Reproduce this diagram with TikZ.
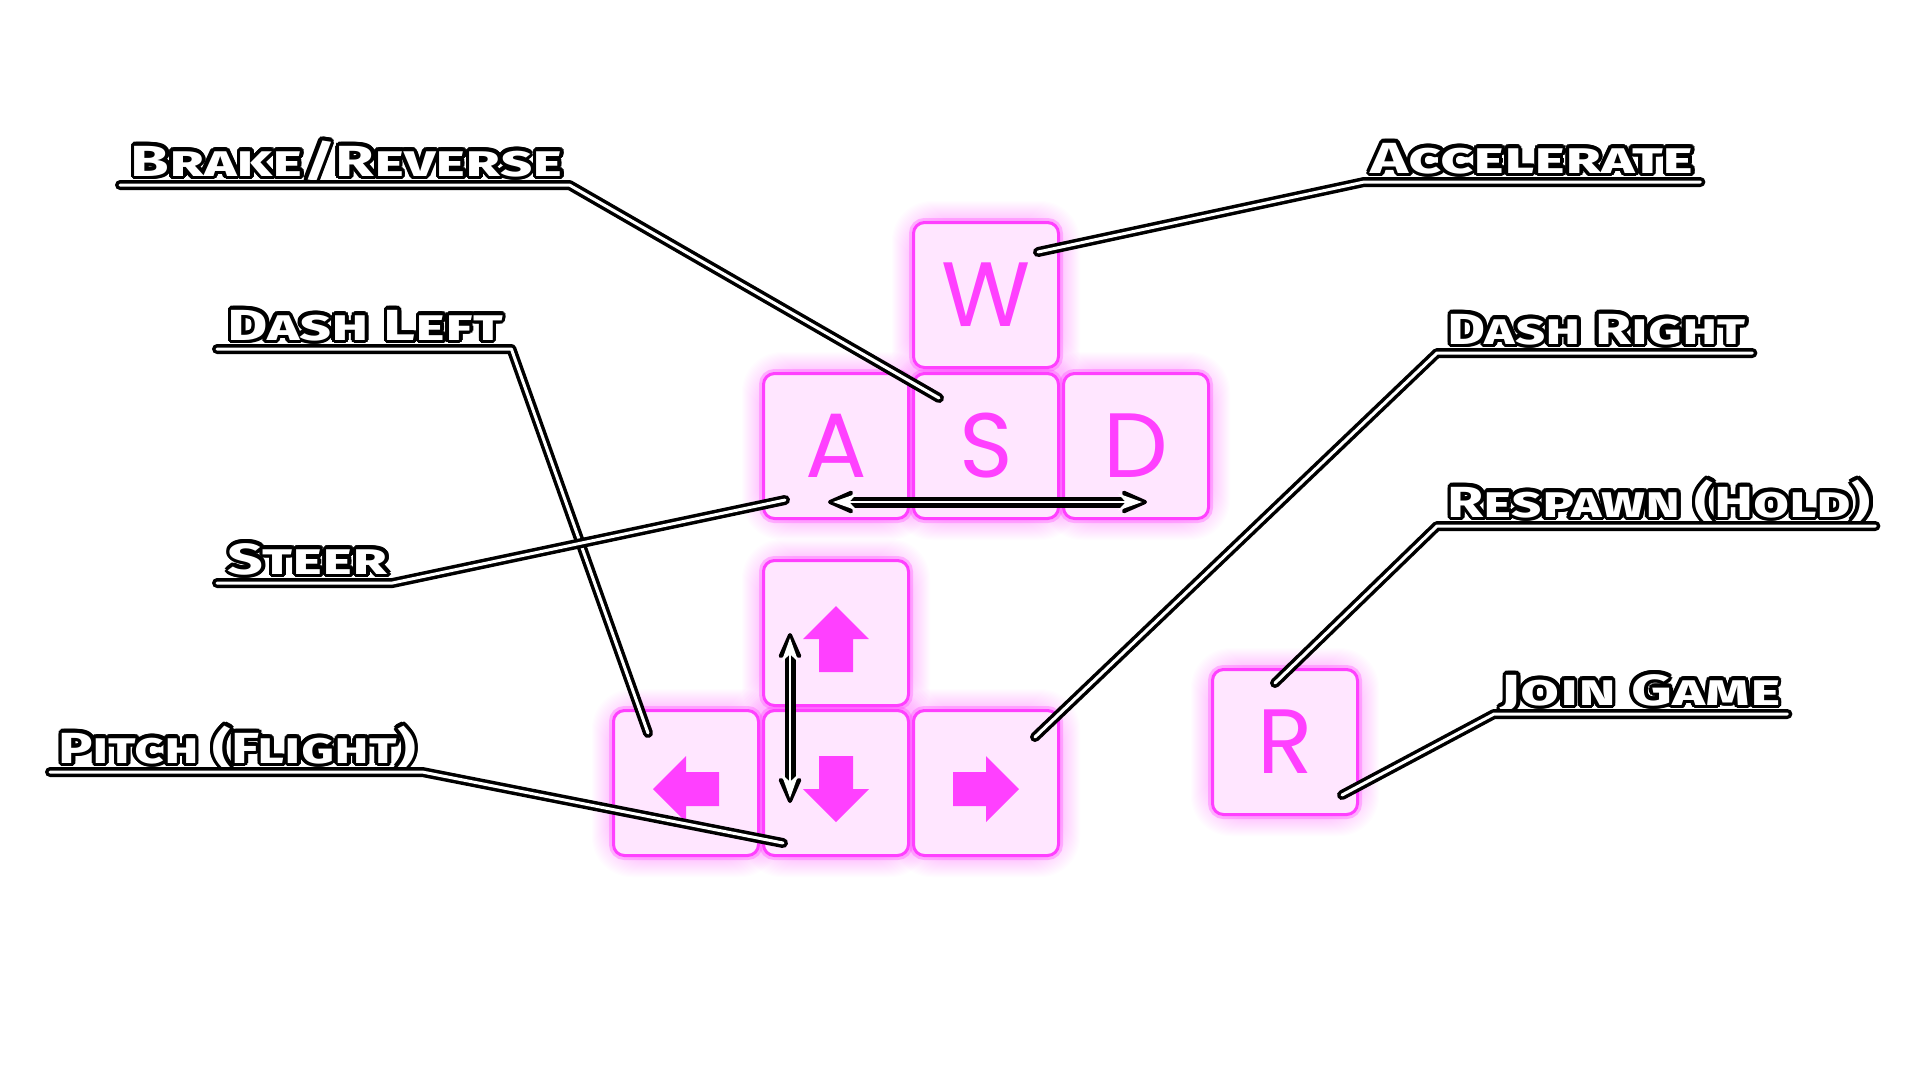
\documentclass[tikz,border=0pt]{standalone}
\usepackage{fontspec}
\usetikzlibrary{calc,arrows.meta,backgrounds}

\newfontfamily\labelfont{Fira Sans}
\newfontfamily\keyfont{Poppins}
\definecolor{keypink}{RGB}{255,64,255}
\definecolor{keyfill}{RGB}{255,230,255}

% outlined small-caps text stretched to a given width
\newsavebox\lblbox
\newcommand\fittext[2]{%
  \setbox\lblbox=\hbox{\labelfont\bfseries\scshape\fontsize{12.4pt}{14pt}\selectfont #2}%
  \pgfmathsetmacro\lblsx{#1/\the\wd\lblbox}%
  \foreach \a in {0,22.5,...,337.5}{%
    \pgfmathsetlengthmacro\ox{0.37mm*cos(\a)}%
    \pgfmathsetlengthmacro\oy{0.37mm*sin(\a)}%
    \rlap{\hspace*{\ox}\raisebox{\oy}{\color{black}\scalebox{\lblsx}[1]{\copy\lblbox}}}}%
  {\color{white}\scalebox{\lblsx}[1]{\copy\lblbox}}}

\tikzset{
  key/.style={draw=keypink, line width=0.3mm, fill=keyfill, rounded corners=1.1mm,
    minimum size=14.5mm, inner sep=0pt, text=keypink,
    font=\keyfont\fontsize{26pt}{26pt}\selectfont,
    preaction={draw=keypink, draw opacity=0.3, line width=0.9mm}},
  tag/.style={anchor=base west, inner sep=0pt},
  leader/.style={draw=black, double=white, line width=0.35mm, double distance=0.3mm,
    line cap=round, line join=round},
  duoback/.style={black, line width=1.1mm,
    {Stealth[length=3.2mm,width=2.8mm,line width=0.4mm,round]}-{Stealth[length=3.2mm,width=2.8mm,line width=0.4mm,round]}},
  duofront/.style={white, line width=0.25mm, shorten <=0.5mm, shorten >=0.5mm,
    {Stealth[length=2.4mm,width=1.7mm]}-{Stealth[length=2.4mm,width=1.7mm]}},
}

\begin{document}
\begin{tikzpicture}[x=0.1mm,y=-0.1mm]
  \useasboundingbox (0,0) rectangle (1920,1080);

  % keys
  \node[key] (keyW) at (986,295) {W};
  \node[key] (keyA) at (836,446) {A};
  \node[key] (keyS) at (986,446) {S};
  \node[key] (keyD) at (1136,446) {D};
  \node[key] (keyUp) at (836,633) {};
  \node[key] (keyLeft) at (686,783) {};
  \node[key] (keyDown) at (836,783) {};
  \node[key] (keyRight) at (986,783) {};
  \node[key] (keyR) at (1285,742) {R};

  % glow behind the keys
  \begin{pgfonlayer}{background}
    \fill[white] (0,0) rectangle (1920,1080);
    \foreach \k in {keyW,keyA,keyS,keyD,keyUp,keyLeft,keyDown,keyRight,keyR}
      \foreach \i [evaluate=\i as \d using \i*6] in {1,...,20}
        \fill[keypink, opacity=0.016, rounded corners=4mm]
          ($(\k.north west)+(-\d,-\d)$) rectangle ($(\k.south east)+(\d,\d)$);
  \end{pgfonlayer}

  % arrow glyphs on the cursor keys
  \foreach \k/\a in {keyUp/90,keyLeft/180,keyDown/270,keyRight/0}
    \fill[keypink, shift={($(\k.center)+(0,6)$)}, rotate=\a]
      (33,0) -- (0,33) -- (0,17) -- (-33,17) -- (-33,-17) -- (0,-17) -- (0,-33) -- cycle;

  % two-way arrows
  \coordinate (steerL) at (828,502);
  \coordinate (steerR) at (1147,502);
  \coordinate (pitchT) at (790,633);
  \coordinate (pitchB) at (790,803);
  \draw[duoback] (steerL) -- (steerR);
  \draw[duofront] (steerL) -- (steerR);
  \draw[duoback] (pitchT) -- (pitchB);
  \draw[duofront] (pitchT) -- (pitchB);

  % leader ends on the keys
  \coordinate (endBrake) at (939,398);
  \coordinate (endAcc) at (1038,252);
  \coordinate (endDashL) at (648,733);
  \coordinate (endSteer) at (785,500);
  \coordinate (endPitch) at (783,843);
  \coordinate (endDashR) at (1035,737);
  \coordinate (endResp) at (1275,683);
  \coordinate (endJoin) at (1342,795);

  % labels
  \node[tag] (tagBrake) at (130,176) {\fittext{43.2mm}{Brake/Reverse}};
  \node[tag] (tagAcc) at (1370,173) {\fittext{32.3mm}{Accelerate}};
  \node[tag] (tagDashL) at (227,340) {\fittext{27.5mm}{Dash Left}};
  \node[tag] (tagSteer) at (227,574) {\fittext{16mm}{Steer}};
  \node[tag] (tagPitch) at (58,763) {\fittext{35.7mm}{Pitch (Flight)}};
  \node[tag] (tagDashR) at (1447,344) {\fittext{29.8mm}{Dash Right}};
  \node[tag] (tagResp) at (1447,517) {\fittext{42.3mm}{Respawn (Hold)}};
  \node[tag] (tagJoin) at (1500,705) {\fittext{28mm}{Join Game}};

  \draw[leader] ($(tagBrake.base west)+(-10,9)$) -- ($(tagBrake.base east)+(6,9)$) -- (endBrake);
  \draw[leader] ($(tagAcc.base east)+(6,9)$) -- ($(tagAcc.base west)+(-6,9)$) -- (endAcc);
  \draw[leader] ($(tagDashL.base west)+(-10,9)$) -- ($(tagDashL.base east)+(8,9)$) -- (endDashL);
  \draw[leader] ($(tagSteer.base west)+(-10,9)$) -- ($(tagSteer.base east)+(4,9)$) -- (endSteer);
  \draw[leader] ($(tagPitch.base west)+(-8,9)$) -- ($(tagPitch.base east)+(6,9)$) -- (endPitch);
  \draw[leader] ($(tagDashR.base east)+(6,9)$) -- ($(tagDashR.base west)+(-10,9)$) -- (endDashR);
  \draw[leader] ($(tagResp.base east)+(4,9)$) -- ($(tagResp.base west)+(-10,9)$) -- (endResp);
  \draw[leader] ($(tagJoin.base east)+(6,9)$) -- ($(tagJoin.base west)+(-6,9)$) -- (endJoin);
\end{tikzpicture}
\end{document}
